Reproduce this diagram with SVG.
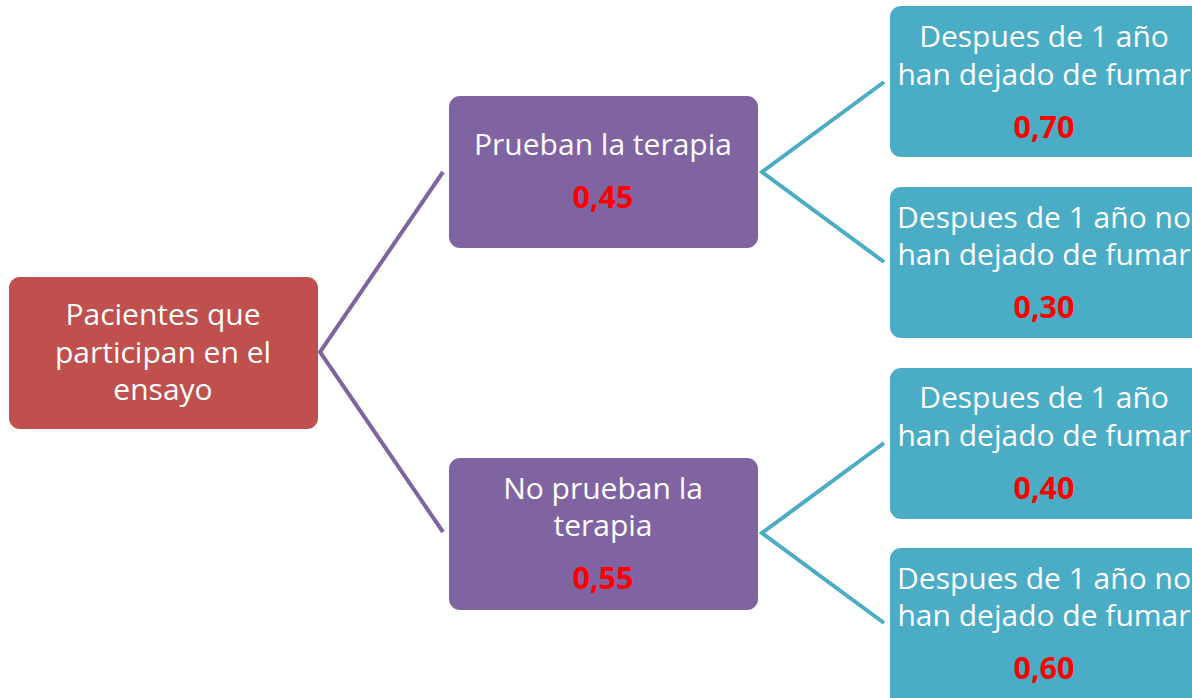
<svg xmlns="http://www.w3.org/2000/svg" width="1192" height="698" viewBox="0 0 1192 698">
<style>
.t{font-family:"Open Sans","Liberation Sans",sans-serif;font-size:30px;fill:#fff;text-anchor:middle}
.v{font-family:"Open Sans","Liberation Sans",sans-serif;font-size:30.5px;font-weight:bold;fill:#ff0000;text-anchor:middle}
.c1{stroke:#8064A2;stroke-width:4;fill:none}
.c2{stroke:#4BACC6;stroke-width:4;fill:none}
</style>
<rect width="1192" height="698" fill="#fff"/>
<g id="connectors">
<polyline class="c1" points="443,172 320,352 443,532"/>
<polyline class="c2" points="884,82 762,172 884,262"/>
<polyline class="c2" points="884,443 762,533 884,623"/>
</g>
<g id="root">
<rect x="9" y="277" width="309" height="152" rx="11" fill="#C0504D"/>
<text class="t" x="163" y="325">Pacientes que</text>
<text class="t" x="163" y="363">participan en el</text>
<text class="t" x="163" y="400">ensayo</text>
</g>
<g id="prueban">
<rect x="449" y="96" width="309" height="152" rx="11" fill="#8064A2"/>
<text class="t" x="603" y="155">Prueban la terapia</text>
<text class="v" x="603" y="208">0,45</text>
</g>
<g id="noprueban">
<rect x="449" y="458" width="309" height="152" rx="11" fill="#8064A2"/>
<text class="t" x="603" y="499">No prueban la</text>
<text class="t" x="603" y="536">terapia</text>
<text class="v" x="603" y="589">0,55</text>
</g>
<g id="leaf1">
<rect x="890" y="6" width="312" height="151" rx="11" fill="#4BACC6"/>
<text class="t" x="1044" y="47">Despues de 1 año</text>
<text class="t" x="1044" y="85">han dejado de fumar</text>
<text class="v" x="1044" y="138">0,70</text>
</g>
<g id="leaf2">
<rect x="890" y="187" width="312" height="151" rx="11" fill="#4BACC6"/>
<text class="t" x="1044" y="228">Despues de 1 año no</text>
<text class="t" x="1044" y="265">han dejado de fumar</text>
<text class="v" x="1044" y="318">0,30</text>
</g>
<g id="leaf3">
<rect x="890" y="368" width="312" height="151" rx="11" fill="#4BACC6"/>
<text class="t" x="1044" y="408">Despues de 1 año</text>
<text class="t" x="1044" y="446">han dejado de fumar</text>
<text class="v" x="1044" y="499">0,40</text>
</g>
<g id="leaf4">
<rect x="890" y="548" width="312" height="160" rx="11" fill="#4BACC6"/>
<text class="t" x="1044" y="589">Despues de 1 año no</text>
<text class="t" x="1044" y="626">han dejado de fumar</text>
<text class="v" x="1044" y="679">0,60</text>
</g>
</svg>
